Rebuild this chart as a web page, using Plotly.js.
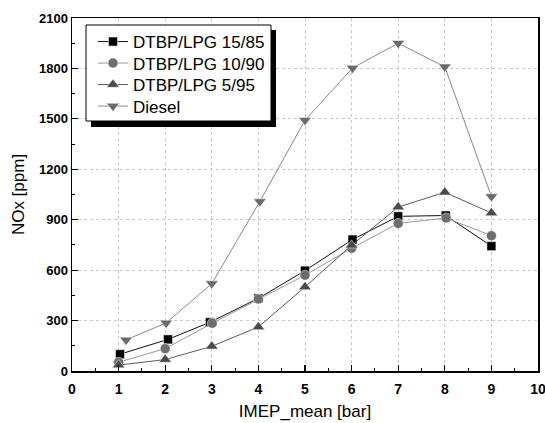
<!DOCTYPE html>
<html><head><meta charset="utf-8">
<script src="https://cdn.plot.ly/plotly-3.0.1.min.js"></script>
<style>html,body{margin:0;padding:0;background:#fff}#chart{width:545px;height:423px}</style>
</head><body><div id="chart"></div>
<script>
var names = ["DTBP/LPG 15/85", "DTBP/LPG 10/90", "DTBP/LPG 5/95", "Diesel"];
var x1585 = [1.03, 2.06, 2.96, 4.0, 5.0, 6.02, 7.0, 8.02, 9.0];
var y1585 = [100, 188, 290, 432, 597, 782, 920, 925, 743];
var x1090 = [1.0, 2.0, 3.01, 4.0, 5.0, 6.0, 7.0, 8.03, 9.0];
var y1090 = [52, 133, 284, 428, 570, 730, 878, 910, 805];
var x595 = [1.0, 2.0, 3.0, 4.0, 5.0, 6.0, 7.0, 8.0, 9.0];
var y595 = [35, 68, 147, 262, 500, 748, 975, 1063, 940];
var xDiesel = [1.16, 2.02, 3.0, 4.03, 5.0, 6.02, 7.0, 8.0, 9.0];
var yDiesel = [185, 286, 520, 1008, 1492, 1802, 1950, 1810, 1038];

var FONT = "Arial, Liberation Sans, sans-serif";
var traces = [
  {x: x1585, y: y1585, name: names[0], mode: "lines+markers", legend: "legend",
   line: {color: "#111", width: 1},
   marker: {symbol: "square", size: 9, color: "#000", line: {color: "#fff", width: 0.5}}},
  {x: x1090, y: y1090, name: names[1], mode: "lines+markers", legend: "legend2",
   line: {color: "#9a9a9a", width: 1},
   marker: {symbol: "circle", size: 10, color: "#6e6e6e", line: {color: "#fff", width: 0.5}}},
  {x: x595, y: y595, name: names[2], mode: "lines+markers", legend: "legend3",
   line: {color: "#5a5a5a", width: 1},
   marker: {symbol: "triangle-up", size: 11, color: "#4a4a4a", line: {color: "#fff", width: 0.5}}},
  {x: xDiesel, y: yDiesel, name: names[3], mode: "lines+markers", legend: "legend4",
   line: {color: "#8a8a8a", width: 1},
   marker: {symbol: "triangle-down", size: 11, color: "#6a6a6a", line: {color: "#fff", width: 0.5}}}
];

function px2x(p) { return (p - 72) / 466; }
function px2y(p) { return (371 - p) / 353; }
function leg(rowPx) {
  return {x: px2x(93), y: px2y(rowPx), xanchor: "left", yanchor: "middle",
    bgcolor: "rgba(0,0,0,0)", borderwidth: 0,
    font: {size: 17, family: FONT, color: "#000"}};
}

var layout = {
  width: 545, height: 423,
  margin: {l: 72, r: 7, t: 18, b: 52},
  paper_bgcolor: "#fff", plot_bgcolor: "#fff",
  font: {family: FONT, color: "#000"},
  showlegend: true,
  legend: leg(42), legend2: leg(63.5), legend3: leg(85), legend4: leg(106.5),
  xaxis: {range: [0, 10], dtick: 1, tick0: 0, showline: true, mirror: true,
    linecolor: "#000", linewidth: 1.5, ticks: "inside", ticklen: 6, tickwidth: 1.2, tickcolor: "#000",
    minor: {dtick: 0.5, ticks: "inside", ticklen: 3, tickwidth: 1, tickcolor: "#000", showgrid: false},
    showgrid: true, gridcolor: "#c8c8c8", griddash: "dot", gridwidth: 1, zeroline: false,
    ticklabeloverflow: "allow", ticklabelstandoff: 5,
    tickprefix: "<b>", ticksuffix: "</b>",
    tickfont: {size: 14, family: FONT},
    title: {text: "IMEP_mean [bar]", font: {size: 17}, standoff: 9}},
  yaxis: {range: [0, 2100], dtick: 300, tick0: 0, showline: true, mirror: true,
    linecolor: "#000", linewidth: 1.5, ticks: "inside", ticklen: 6, tickwidth: 1.2, tickcolor: "#000",
    minor: {dtick: 150, ticks: "inside", ticklen: 3, tickwidth: 1, tickcolor: "#000", showgrid: false},
    showgrid: true, gridcolor: "#c8c8c8", griddash: "dot", gridwidth: 1, zeroline: false,
    ticklabeloverflow: "allow",
    tickprefix: "<b>", ticksuffix: "</b>",
    tickfont: {size: 13, family: FONT},
    title: {text: "NOx [ppm]", font: {size: 17}, standoff: 10}},
  shapes: [
    {type: "rect", xref: "paper", yref: "paper", layer: "above",
     x0: px2x(91), x1: px2x(276), y0: px2y(127), y1: px2y(30),
     fillcolor: "#000", line: {width: 0}},
    {type: "rect", xref: "paper", yref: "paper", layer: "above",
     x0: px2x(86), x1: px2x(271), y0: px2y(121), y1: px2y(25),
     fillcolor: "#fff", line: {color: "#000", width: 1}}
  ]
};
Plotly.newPlot("chart", traces, layout, {displayModeBar: false, staticPlot: true});
</script></body></html>
